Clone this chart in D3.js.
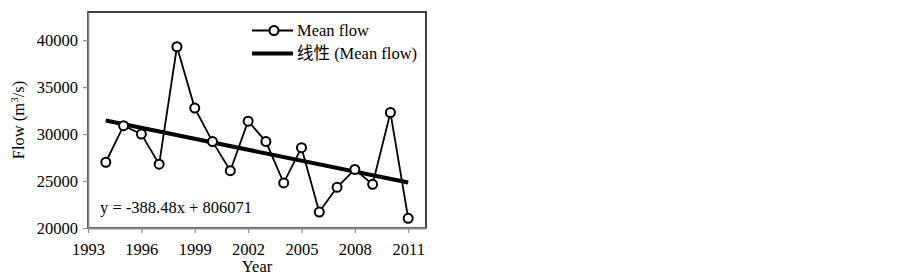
<!DOCTYPE html>
<html>
<head>
<meta charset="utf-8">
<script src="https://cdn.jsdelivr.net/npm/d3@7"></script>
<style>
    body { margin: 0; background: #fff; }
    svg text { font-family: "Liberation Serif", "Times New Roman", "Noto Sans CJK SC", serif; fill: #000; }
</style>
</head>
<body>
<div id="chart"></div>
<script>
// Mean flow by year, with its linear trend

const years = [1994, 1995, 1996, 1997, 1998, 1999, 2000, 2001, 2002,
    2003, 2004, 2005, 2006, 2007, 2008, 2009, 2010, 2011];
const meanFlow = [27000, 30900, 30000, 26800, 39300, 32770, 29200, 26100, 31380,
    29200, 24800, 28550, 21700, 24330, 26240, 24650, 32300, 21030];
const trendSlope = -388.48;
const trendIntercept = 806071;
const yearTicks = [1993, 1996, 1999, 2002, 2005, 2008, 2011];
const flowTicks = [20000, 25000, 30000, 35000, 40000];
const legendLabels = ['Mean flow', '线性 (Mean flow)'];

function createFlowChart() {
    const svg = d3.select('#chart').append('svg')
        .attr('width', 903)
        .attr('height', 278);

    const left = 88, right = 426, top = 12, bottom = 228;

    const x = d3.scaleLinear()
        .domain([1993, 2012])
        .range([left, right]);

    const y = d3.scaleLinear()
        .domain([20000, 43000])
        .range([bottom, top]);

    // Plot area border
    svg.append('rect')
        .attr('x', left)
        .attr('y', top)
        .attr('width', right - left)
        .attr('height', bottom - top)
        .attr('fill', 'none')
        .attr('stroke', '#000')
        .attr('stroke-width', 1.5);

    // Axes
    const xAxis = svg.append('g')
        .attr('transform', `translate(0,${bottom})`)
        .call(d3.axisBottom(x)
            .tickValues(yearTicks)
            .tickFormat(d3.format('d'))
            .tickSize(5)
            .tickSizeOuter(0)
            .tickPadding(10));

    const yAxis = svg.append('g')
        .attr('transform', `translate(${left},0)`)
        .call(d3.axisLeft(y)
            .tickValues(flowTicks)
            .tickFormat(d3.format('d'))
            .tickSize(5)
            .tickSizeOuter(0)
            .tickPadding(5));

    [xAxis, yAxis].forEach(g => {
        g.select('.domain').attr('stroke', '#8c8c8c').attr('stroke-width', 1.8);
        g.selectAll('.tick line').attr('stroke', '#8c8c8c').attr('stroke-width', 1.2);
        g.selectAll('.tick text')
            .attr('font-size', '16.5px')
            .attr('fill', '#000');
    });

    // Axis titles
    svg.append('text')
        .attr('x', (left + right) / 2)
        .attr('y', 272)
        .attr('text-anchor', 'middle')
        .attr('font-size', '16.5px')
        .text('Year');

    const yTitle = svg.append('text')
        .attr('transform', `translate(24,${(top + bottom) / 2}) rotate(-90)`)
        .attr('text-anchor', 'middle')
        .attr('font-size', '16.5px');
    yTitle.append('tspan').text('Flow (m');
    yTitle.append('tspan').attr('font-size', '11px').attr('dy', '-6').text('3');
    yTitle.append('tspan').attr('dy', '6').text('/s)');

    // Trend line
    const trendYears = [years[0], years[years.length - 1]];
    svg.append('line')
        .attr('x1', x(trendYears[0]))
        .attr('y1', y(trendSlope * trendYears[0] + trendIntercept))
        .attr('x2', x(trendYears[1]))
        .attr('y2', y(trendSlope * trendYears[1] + trendIntercept))
        .attr('stroke', '#000')
        .attr('stroke-width', 4);

    // Data line
    const line = d3.line()
        .x((d, i) => x(years[i]))
        .y(d => y(d));

    svg.append('path')
        .datum(meanFlow)
        .attr('d', line)
        .attr('fill', 'none')
        .attr('stroke', '#000')
        .attr('stroke-width', 1.8);

    svg.selectAll('.dot')
        .data(meanFlow)
        .enter()
        .append('circle')
        .attr('class', 'dot')
        .attr('cx', (d, i) => x(years[i]))
        .attr('cy', d => y(d))
        .attr('r', 4.5)
        .attr('fill', '#fff')
        .attr('stroke', '#000')
        .attr('stroke-width', 2);

    // Equation
    svg.append('text')
        .attr('x', 100)
        .attr('y', 213)
        .attr('font-size', '16.5px')
        .text(`y = ${trendSlope}x + ${trendIntercept}`);

    // Legend
    const legend = svg.append('g');
    legend.append('line')
        .attr('x1', 252).attr('x2', 293)
        .attr('y1', 30.5).attr('y2', 30.5)
        .attr('stroke', '#000')
        .attr('stroke-width', 1.8);
    legend.append('circle')
        .attr('cx', 274).attr('cy', 30.5)
        .attr('r', 4.5)
        .attr('fill', '#fff')
        .attr('stroke', '#000')
        .attr('stroke-width', 2);
    legend.append('line')
        .attr('x1', 252).attr('x2', 293)
        .attr('y1', 53.5).attr('y2', 53.5)
        .attr('stroke', '#000')
        .attr('stroke-width', 4);

    legend.selectAll('.legend-label')
        .data(legendLabels)
        .enter()
        .append('text')
        .attr('class', 'legend-label')
        .attr('x', 297)
        .attr('y', (d, i) => 36 + i * 23)
        .attr('font-size', '16.5px')
        .text(d => d);
}

createFlowChart();
</script>
</body>
</html>
